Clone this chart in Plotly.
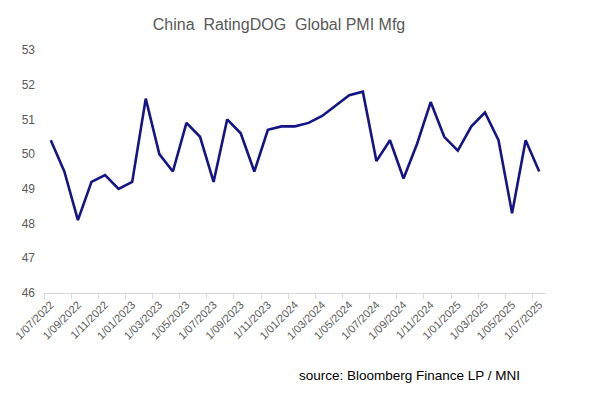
import plotly.graph_objects as go

dates = ["1/07/2022","1/08/2022","1/09/2022","1/10/2022","1/11/2022","1/12/2022",
         "1/01/2023","1/02/2023","1/03/2023","1/04/2023","1/05/2023","1/06/2023",
         "1/07/2023","1/08/2023","1/09/2023","1/10/2023","1/11/2023","1/12/2023",
         "1/01/2024","1/02/2024","1/03/2024","1/04/2024","1/05/2024","1/06/2024",
         "1/07/2024","1/08/2024","1/09/2024","1/10/2024","1/11/2024","1/12/2024",
         "1/01/2025","1/02/2025","1/03/2025","1/04/2025","1/05/2025","1/06/2025",
         "1/07/2025"]
pmi = [50.4, 49.5, 48.1, 49.2, 49.4, 49.0,
       49.2, 51.6, 50.0, 49.5, 50.9, 50.5,
       49.2, 51.0, 50.6, 49.5, 50.7, 50.8,
       50.8, 50.9, 51.1, 51.4, 51.7, 51.8,
       49.8, 50.4, 49.3, 50.3, 51.5, 50.5,
       50.1, 50.8, 51.2, 50.4, 48.3, 50.4,
       49.5]

idx = list(range(len(dates)))
label_idx = idx[::2]
label_txt = [dates[i] for i in label_idx]

fig = go.Figure(go.Scatter(x=idx, y=pmi, mode="lines",
                           line=dict(color="#13138A", width=2.6),
                           hoverinfo="skip"))

W, H = 587, 388  # page body adds an 8px offset
font = "Liberation Sans, Arial, sans-serif"
fig.update_layout(
    width=W, height=H,
    margin=dict(l=36, r=49, t=42, b=103),
    paper_bgcolor="white", plot_bgcolor="white",
    showlegend=False,
    title=dict(text="China  RatingDOG  Global PMI Mfg", x=271/W, xanchor="center",
               y=1 - 16/H, yanchor="middle",
               font=dict(family=font, size=16, color="#595959")),
    font=dict(family=font, color="#595959"),
)
fig.update_xaxes(
    automargin=False,
    range=[-0.5, len(dates) - 0.5],
    tickmode="array", tickvals=label_idx, ticktext=label_txt,
    tickangle=-45, tickfont=dict(size=11, color="#595959"),
    ticks="", showgrid=False, zeroline=False,
    showline=True, linecolor="#D9D9D9", linewidth=1,
    minor=dict(ticks="outside", tick0=-0.5, dtick=2, ticklen=5,
               tickcolor="#D9D9D9", showgrid=False),
)
fig.update_yaxes(
    automargin=False,
    range=[46, 53], dtick=1, tick0=46,
    tickfont=dict(size=12, color="#595959"),
    ticklabelstandoff=8,
    showgrid=False, zeroline=False, showline=False, ticks="",
)
fig.add_annotation(text="source: Bloomberg Finance LP / MNI",
                   xref="paper", yref="paper",
                   x=(293 - 44) / 494, y=(285 - 365) / 235,
                   xanchor="left", yanchor="middle", showarrow=False,
                   font=dict(family=font, size=13.5, color="black"))

fig.write_html("out.html")
